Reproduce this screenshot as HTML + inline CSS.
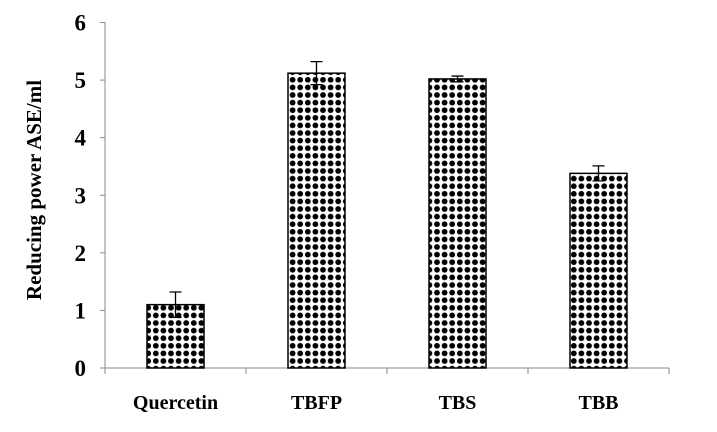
<!DOCTYPE html>
<html><head><meta charset="utf-8"><style>
body{margin:0;background:#fff}
svg{display:block;font-family:"Liberation Serif",serif;font-weight:bold}
</style></head><body>
<svg id="c" width="717" height="432">
<defs>
<pattern id="dots" patternUnits="userSpaceOnUse" width="7.6" height="7.6" x="0" y="0">
<rect width="7.6" height="7.6" fill="#fff"/>
<circle cx="3.8" cy="3.8" r="2.9" fill="#000"/>
</pattern>
</defs>
</svg>
<script>
const categories=["Quercetin","TBFP","TBS","TBB"];
const values=[1.1,5.12,5.02,3.38];
const errors=[0.22,0.2,0.05,0.13];
const yTicks=[0,1,2,3,4,5,6];
const svg=document.getElementById('c');
const NS='http://www.w3.org/2000/svg';
const x0=105,x1=669,yb=368,yt=22.5,ymax=6;
const bw=(x1-x0)/categories.length;
const Y=v=>yb-(v/ymax)*(yb-yt);
const X=i=>x0+bw*(i+0.5);
function mk(t,a){const e=document.createElementNS(NS,t);for(const k in a)e.setAttribute(k,a[k]);svg.appendChild(e);return e;}
let e;
e=mk('line',{x1:x0,y1:yt,x2:x0,y2:yb,stroke:'#888','stroke-width':1});


e=mk('line',{x1:x0-5,y1:yb,x2:x1,y2:yb,stroke:'#888','stroke-width':1});


yTicks.forEach(t=>{
 const tk=mk('line',{x1:x0-5,y1:Y(t),x2:x0,y2:Y(t),stroke:'#888'});
 
 
 const l=mk('text',{x:86,y:Y(t)+8,'text-anchor':'end','font-size':23});
 l.textContent=t;
 
 
});
for(let i=0;i<=categories.length;i++){
 const tk=mk('line',{x1:x0+bw*i,y1:yb,x2:x0+bw*i,y2:yb+6,stroke:'#888'});
 
 
}
categories.forEach((c,i)=>{
 const w=57,cx=X(i);
 const b=mk('rect',{x:cx-w/2,y:Y(values[i]),width:w,height:yb-Y(values[i]),fill:'url(#dots)',stroke:'#000','stroke-width':1.5});
 
 
 const hi=Y(values[i]+errors[i]),lo=Y(values[i]-errors[i]);
 const g=mk('path',{d:`M${cx},${hi}V${lo}M${cx-6},${hi}H${cx+6}M${cx-6},${lo}H${cx+6}`,stroke:'#000','stroke-width':1.3,fill:'none'});
 
 
 const l=mk('text',{x:cx,y:409,'text-anchor':'middle','font-size':20});
 l.textContent=c;
 
 
});
e=mk('text',{x:0,y:0,'text-anchor':'middle','font-size':21,transform:'translate(41,190) rotate(-90)'});
e.textContent='Reducing power ASE/ml';


</script>
</body></html>
